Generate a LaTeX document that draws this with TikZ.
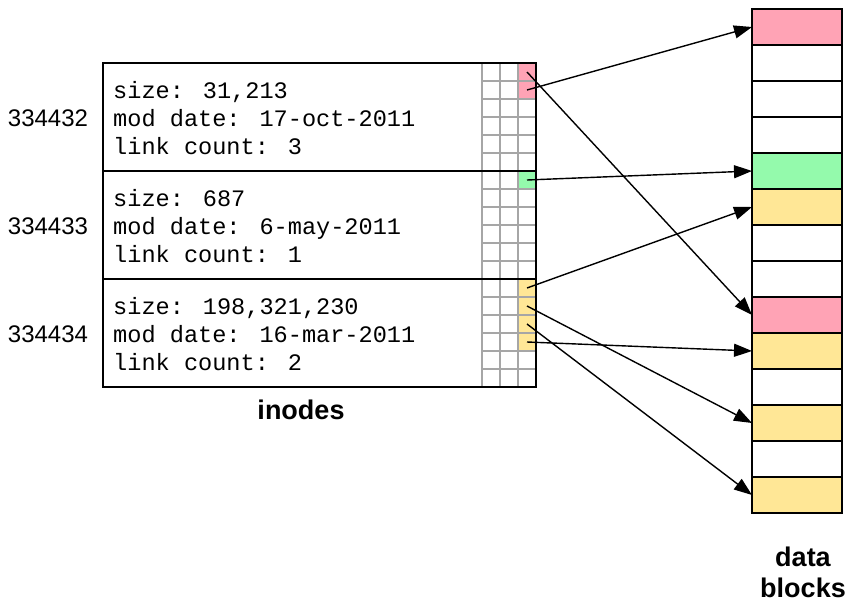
\documentclass[tikz,border=0pt]{standalone}
\usepackage{fontspec}
\setmainfont{Liberation Sans}
\newfontfamily\inodefont{Liberation Mono}
\usetikzlibrary{arrows.meta}
\definecolor{blkpink}{RGB}{255,163,181}
\definecolor{blkgreen}{RGB}{148,250,172}
\definecolor{blkyellow}{RGB}{255,231,150}
\tikzset{
  dblock/.style={draw, line width=1.2pt, minimum width=90pt, minimum height=36pt,
    inner sep=0pt, outer sep=0pt},
  inodetext/.style={font=\inodefont\fontsize{23.6}{28}\selectfont, align=left,
    anchor=west, inner sep=0pt},
  numlabel/.style={font=\fontsize{24}{28}\selectfont, inner sep=0pt},
  title/.style={font=\bfseries\fontsize{27}{31}\selectfont, inner sep=0pt, align=center},
  ptr/.style={line width=1.4pt, -{Triangle[length=18pt,width=13pt]}}
}
\begin{document}
\begin{tikzpicture}[x=1pt, y=-1pt]
    \useasboundingbox (0,0) rectangle (855,602);
    % coloured block-pointer cells
    \fill[blkpink] (518,63) rectangle (536,99);
    \fill[blkgreen] (518,171) rectangle (536,189);
    \fill[blkyellow] (518,279) rectangle (536,351);
    % pointer grid
    \foreach \gx in {482,500,518}
        \draw[gray!70, line width=1.5pt] (\gx,63) -- (\gx,387);
    \foreach \gy in {81,99,...,369}
        \draw[gray!70, line width=1.5pt] (482,\gy) -- (536,\gy);
    % inode table
    \draw[line width=1.3pt] (103,63) rectangle (536,387);
    \draw[line width=1.3pt] (103,171) -- (536,171);
    \draw[line width=1.3pt] (103,279) -- (536,279);
    \node[inodetext] (ino1) at (113,118) {size: 31,213\\mod date: 17-oct-2011\\link count: 3};
    \node[inodetext] (ino2) at (113,226) {size: 687\\mod date: 6-may-2011\\link count: 1};
    \node[inodetext] (ino3) at (113,334) {size: 198,321,230\\mod date: 16-mar-2011\\link count: 2};
    \node[numlabel] (num1) at (48,118) {334432};
    \node[numlabel] (num2) at (48,226) {334433};
    \node[numlabel] (num3) at (48,334) {334434};
    \node[title] (inodes) at (301,410) {inodes};
    % data blocks
    \foreach \k/\c in {0/blkpink,1/white,2/white,3/white,4/blkgreen,5/blkyellow,6/white,
                       7/white,8/blkpink,9/blkyellow,10/white,11/blkyellow,12/white,13/blkyellow}
        \node[dblock, fill=\c] (b\k) at (797,27+36*\k) {};
    \node[title] (blocks) at (803,572) {data\\blocks};
    % pointer cells
    \foreach \r in {0,1,6,12,13,14,15}
        \coordinate (c\r) at (527,72+18*\r);
    % pointers to data blocks
    \draw[ptr] (c0) -- (b8.west);
    \draw[ptr] (c1) -- (b0.west);
    \draw[ptr] (c6) -- (b4.west);
    \draw[ptr] (c12) -- (b5.west);
    \draw[ptr] (c13) -- (b11.west);
    \draw[ptr] (c14) -- (b13.west);
    \draw[ptr] (c15) -- (b9.west);
\end{tikzpicture}
\end{document}
